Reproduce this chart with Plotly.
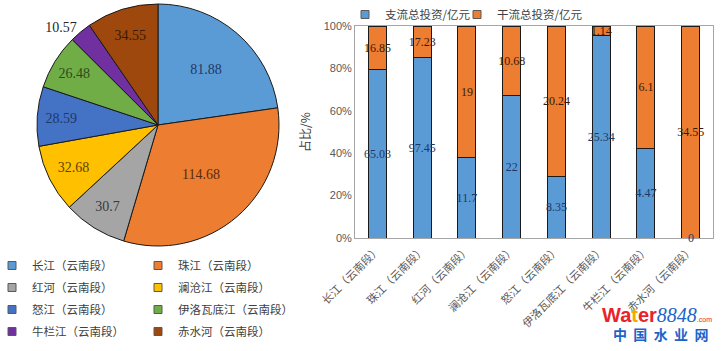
import plotly.graph_objects as go

# ---------------- data ----------------
rivers = ["长江（云南段）", "珠江（云南段）", "红河（云南段）", "澜沧江（云南段）",
          "怒江（云南段）", "伊洛瓦底江（云南段）", "牛栏江（云南段）", "赤水河（云南段）"]
total_invest = [81.88, 114.68, 30.7, 32.68, 28.59, 26.48, 10.57, 34.55]
tributary_invest = [65.03, 97.45, 11.7, 22, 8.35, 25.34, 4.47, 0]
mainstream_invest = [16.85, 17.23, 19, 10.68, 20.24, 1.14, 6.1, 34.55]
series_names = ["支流总投资/亿元", "干流总投资/亿元"]
y_ticks = [0, 20, 40, 60, 80, 100]

# ---------------- styles ----------------
pie_colors = ["#5B9BD5", "#ED7D31", "#A5A5A5", "#FFC000", "#4472C4", "#70AD47", "#7030A0", "#9E480E"]
pie_text_colors = ["#1F3864", "#5A2A0A", "#3A3A3A", "#5C4500", "#1F3864", "#2E4A1C", "#262626", "#3A1A05"]
pie_text_pos = ["inside"] * 6 + ["outside"] + ["inside"]
W, H = 728, 351
CJK = "Noto Sans CJK SC"
SERIF = "Liberation Serif"

fig = go.Figure()

# ---------------- pie ----------------
cx, cy, r = 158, 125, 121
fig.add_trace(go.Pie(
    labels=rivers, values=total_invest, sort=False, direction="clockwise", rotation=0,
    marker=dict(colors=pie_colors, line=dict(color="#1a1a1a", width=1)),
    text=[str(v) for v in total_invest], textinfo="text",
    textposition=pie_text_pos, insidetextorientation="horizontal",
    textfont=dict(family=SERIF, size=14, color=pie_text_colors),
    outsidetextfont=dict(family=SERIF, size=14, color="#262626"),
    domain=dict(x=[(cx - r) / W, (cx + r) / W], y=[(H - cy - r) / H, (H - cy + r) / H]),
    showlegend=False, hoverinfo="label+value",
))

# legend entries for the pie (two columns)
for i, name in enumerate(rivers):
    fig.add_trace(go.Scatter(
        x=[None], y=[None], mode="markers", name=name,
        marker=dict(symbol="square", size=8, color=pie_colors[i], line=dict(color="#595959", width=1)),
        legend="legend2" if i % 2 == 0 else "legend3",
        legendgroup="g%d" % i, xaxis="x2", yaxis="y2", hoverinfo="skip",
    ))

# ---------------- stacked percent bars ----------------
bar_colors = ["#5B9BD5", "#ED7D31"]
bar_text_colors = ["#1F3864", "#3A1A05"]
legend_widths = [67, 100]
for vals, nm, col, tc, lw in zip([tributary_invest, mainstream_invest], series_names, bar_colors,
                                 bar_text_colors, legend_widths):
    fig.add_trace(go.Bar(
        x=rivers, y=vals, name=nm, marker=dict(color=col, line=dict(color="#1a1a1a", width=1)),
        text=[str(v) for v in vals], texttemplate="%{text}", textposition="inside",
        insidetextanchor="middle", textangle=0, showlegend=False,
        textfont=dict(family=SERIF, size=12, color=tc), width=0.4,
    ))
    # legend entry with a small square, like the original
    fig.add_trace(go.Scatter(
        x=[None], y=[None], mode="markers", name=nm, legend="legend", legendwidth=lw,
        marker=dict(symbol="square", size=8, color=col, line=dict(color="#595959", width=1)),
        xaxis="x2", yaxis="y2", hoverinfo="skip",
    ))
    # zero-height segments still carry a label in the original
    for xc, v in zip(rivers, vals):
        if v == 0:
            fig.add_annotation(x=xc, y=v, xref="x", yref="y", text=str(v), showarrow=False,
                               yanchor="middle", font=dict(family=SERIF, size=12, color=tc))

x0, x1 = 355 / W, 713 / W
y0, y1 = (H - 238) / H, (H - 26) / H

fig.update_layout(
    width=W, height=H, margin=dict(l=0, r=0, t=0, b=0, autoexpand=False),
    paper_bgcolor="white", plot_bgcolor="white",
    barmode="stack", barnorm="percent", bargap=0.6,
    uniformtext=dict(minsize=12, mode="show"),
    xaxis=dict(domain=[x0, x1], tickangle=-45, showline=True, linecolor="#A6A6A6", mirror=True,
               tickfont=dict(family=CJK, size=11, color="#595959"), ticks="", automargin=False),
    yaxis=dict(domain=[y0, y1], range=[0, 100], tickmode="array", tickvals=y_ticks,
               ticktext=["%d%%" % v for v in y_ticks], automargin=False,
               showgrid=False, showline=True, linecolor="#A6A6A6", mirror=True, zeroline=False,
               tickfont=dict(family="Liberation Sans", size=11, color="#595959"),
               title=dict(text="占比/%", font=dict(family=CJK, size=12, color="#404040"), standoff=10)),
    xaxis2=dict(domain=[0, 0.01], visible=False, range=[0, 1]),
    yaxis2=dict(domain=[0, 0.01], visible=False, range=[0, 1], anchor="x2"),
    legend=dict(orientation="h", x=345 / W, xanchor="left", y=1.0, yanchor="top", traceorder="normal",
                font=dict(family=CJK, size=11.5, color="#404040"), bgcolor="rgba(0,0,0,0)",
                itemclick=False),
    legend2=dict(orientation="v", x=-8 / W, xanchor="left", y=(H - 251) / H, yanchor="top",
                 font=dict(family=CJK, size=11.5, color="#404040"), tracegroupgap=3,
                 bgcolor="rgba(0,0,0,0)"),
    legend3=dict(orientation="v", x=138 / W, xanchor="left", y=(H - 251) / H, yanchor="top",
                 font=dict(family=CJK, size=11.5, color="#404040"), tracegroupgap=3,
                 bgcolor="rgba(0,0,0,0)"),
)

# watermark
fig.add_annotation(x=600 / W, y=(H - 315) / H, xref="paper", yref="paper", xanchor="left", yanchor="middle",
                   showarrow=False,
                   text="<b><span style='color:#E8242A'>Wa</span><span style='color:#F6A800'>t</span>"
                        "<span style='color:#E8242A'>er</span></b><i><span style='font-family:Liberation Serif;color:#1E64C8'>8848</span></i>"
                        "<span style='color:#E8242A;font-size:7px'>.com</span>",
                   font=dict(family="Liberation Sans", size=20))
fig.add_annotation(x=660 / W, y=(H - 334) / H, xref="paper", yref="paper", xanchor="center", yanchor="middle",
                   showarrow=False, text="<b>中  国  水  业  网</b>",
                   font=dict(family=CJK, size=14, color="#1E64C8"))

fig.write_html("out.html")
